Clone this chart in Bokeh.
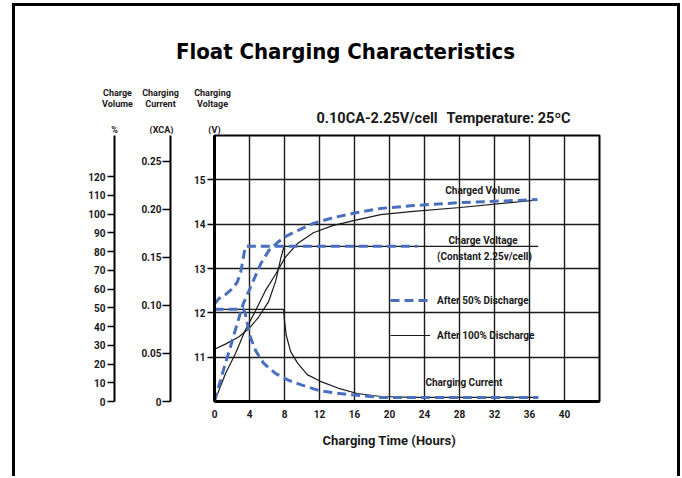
from bokeh.plotting import figure
from bokeh.layouts import column
from bokeh.models import (Range1d, LinearAxis, FixedTicker, Label, Legend,
                          LegendItem, CustomJSTickFormatter, Title)
from bokeh.embed import file_html
from bokeh.resources import INLINE

# ---------------- data ----------------
title_text = "Float Charging Characteristics"
condition_text = "0.10CA-2.25V/cell"
temperature_text = "Temperature: 25ºC"
x_axis_title = "Charging Time (Hours)"

hour_ticks = [0, 4, 8, 12, 16, 20, 24, 28, 32, 36, 40]
voltage_ticks = [11, 12, 13, 14, 15]
current_ticks = [0, 0.05, 0.10, 0.15, 0.20, 0.25]
current_tick_labels = ["0", "0.05", "0.10", "0.15", "0.20", "0.25"]
volume_ticks = [0, 10, 20, 30, 40, 50, 60, 70, 80, 90, 100, 110, 120]

# After 50% discharge (blue dashed)
vol50_h = [0, 1.0, 1.8, 2.6, 3.3, 4.3, 5.3, 6.2, 7.2, 8.1, 9.5, 11.3, 13.6, 16.3, 19, 22.7, 28.1, 36.9]
vol50_pct = [0, 16.5, 28.8, 41.6, 52.3, 62.9, 73.6, 80.5, 84.8, 88, 91.2, 95, 98.1, 100.8, 103, 104.5, 106.1, 107.7]
volt50_h = [0, 0.5, 1.26, 2.0, 2.6, 3.0, 3.24, 3.47, 3.55, 23.2]
volt50_v = [12.20, 12.32, 12.41, 12.54, 12.69, 12.92, 13.18, 13.44, 13.5, 13.5]
cur50_h = [0, 3.3, 3.5, 4.1, 4.7, 5.6, 7.0, 8.5, 10, 12.1, 15.2, 19, 22.7, 37]
cur50_ca = [0.096, 0.096, 0.092, 0.067, 0.053, 0.040, 0.029, 0.022, 0.017, 0.011, 0.0073, 0.0042, 0.0042, 0.0042]

# After 100% discharge (black solid)
vol100_h = [0, 1.26, 2.4, 3.5, 4.7, 5.8, 7.0, 8.1, 9.5, 11.3, 13.5, 15.9, 19, 22.4, 28.1, 36.9]
vol100_pct = [0, 14.9, 25.6, 37.9, 48.5, 59, 68, 77, 84.3, 90, 93.8, 96.5, 99.7, 101.3, 103.5, 107.5]
volt100_h = [0, 1.3, 2.8, 3.9, 5.0, 6.2, 7.0, 7.6, 7.95, 37]
volt100_v = [11.18, 11.30, 11.46, 11.64, 11.89, 12.26, 12.72, 13.25, 13.5, 13.5]
cur100_h = [0, 7.9, 8.0, 8.2, 8.7, 9.5, 10.6, 12.1, 14.1, 16.3, 19, 22.7, 37]
cur100_ca = [0.096, 0.096, 0.084, 0.069, 0.052, 0.040, 0.028, 0.021, 0.014, 0.0083, 0.0052, 0.0042, 0.0042]

legend_labels = ["After 50% Discharge", "After 100% Discharge"]
curve_labels = ["Charged Volume", "Charge Voltage", "(Constant 2.25v/cell)", "Charging Current"]
header_labels = [("Charge", "Volume", "%"), ("Charging", "Current", "(XCA)"), ("Charging", "Voltage", "(V)")]

# ---------------- styling ----------------
BLUE = "#4a6fbf"
INK = "#1a1a1a"
FONT = "Roboto"
TITLE_FONT = "DejaVu Sans Condensed"
BORDER = "3px solid black"

# ---- header strip (title, subtitle, axis headings); coordinates are page pixels
head = figure(width=668, height=131, x_range=Range1d(15, 683), y_range=Range1d(137, 6),
              x_axis_type=None, y_axis_type=None, output_backend="svg",
              toolbar_location=None, min_border=0)
head.frame_align = False
head.outline_line_color = None
head.styles = {"border-top": BORDER, "border-left": BORDER, "border-right": BORDER}


def htxt(x, y, s, size, align="center", font=FONT, color=INK):
    head.add_layout(Label(x=x, y=y, text=s, text_align=align, text_baseline="middle",
                          text_font=font, text_font_size=size, text_font_style="bold",
                          text_color=color))


htxt(345, 51, title_text, "22px", font=TITLE_FONT, color="black")
htxt(316, 118, condition_text, "14.5px", align="left")
htxt(570, 118, temperature_text, "14.5px", align="right")
header_x = [117, 160, 212]
unit_x = [114, 161, 214]
for (l1, l2, unit), hx, ux in zip(header_labels, header_x, unit_x):
    htxt(hx, 92, l1, "9px")
    htxt(hx, 103, l2, "9px")
    htxt(ux, 129, unit, "9px")

# ---- main chart
p = figure(width=668, height=342, x_range=Range1d(0, 44), y_range=Range1d(10, 16),
           output_backend="svg", toolbar_location=None,
           min_border_left=199, min_border_right=84, min_border_top=1, min_border_bottom=75)
p.frame_align = False
p.styles = {"border-left": BORDER, "border-right": BORDER}
p.background_fill_color = "white"
p.border_fill_color = "white"
p.outline_line_color = "black"
p.outline_line_width = 2

p.extra_y_ranges = {"cur": Range1d(0, 0.277), "vol": Range1d(0, 141.9)}


def style_axis(ax, lw):
    ax.axis_line_color = "black"
    ax.axis_line_width = lw
    ax.major_tick_line_color = "black"
    ax.major_tick_line_width = 1.5
    ax.major_tick_in = 0
    ax.minor_tick_line_color = None
    ax.major_label_text_font = FONT
    ax.major_label_text_font_size = "10px"
    ax.major_label_text_font_style = "bold"
    ax.major_label_text_color = INK


# bottom axis
p.xaxis.ticker = FixedTicker(ticks=hour_ticks)
style_axis(p.xaxis[0], 3)
p.xaxis.major_tick_out = 0
p.xaxis.major_label_standoff = 8

# x axis title, placed under the tick labels (slightly left of centre, as in the original)
p.add_layout(Title(text=x_axis_title, align="left", offset=108, vertical_align="middle",
                   standoff=23, text_font=FONT, text_font_size="13px",
                   text_font_style="bold", text_color=INK), "below")

# voltage axis (primary)
p.yaxis.ticker = FixedTicker(ticks=voltage_ticks)
style_axis(p.yaxis[0], 3)
p.yaxis.major_tick_out = 7
p.yaxis.major_label_standoff = 2
p.yaxis.axis_label = "|"
p.yaxis.axis_label_text_alpha = 0
p.yaxis.axis_label_text_font_size = "10px"
p.yaxis.axis_label_standoff = 7

cur_axis = LinearAxis(y_range_name="cur", ticker=FixedTicker(ticks=current_ticks),
                      formatter=CustomJSTickFormatter(
                          args=dict(tvals=current_ticks, tlabels=current_tick_labels),
                          code="const i = tvals.findIndex(t => Math.abs(t - tick) < 1e-9); return i >= 0 ? tlabels[i] : '';"))
style_axis(cur_axis, 2)
cur_axis.major_tick_out = 8
cur_axis.major_label_standoff = 1
cur_axis.axis_label = "|"
cur_axis.axis_label_text_alpha = 0
cur_axis.axis_label_text_font_size = "10px"
cur_axis.axis_label_standoff = 10
p.add_layout(cur_axis, "left")

vol_axis = LinearAxis(y_range_name="vol", ticker=FixedTicker(ticks=volume_ticks))
style_axis(vol_axis, 2)
vol_axis.major_tick_out = 7
vol_axis.major_label_standoff = 2
p.add_layout(vol_axis, "left")

# grid
p.xgrid.grid_line_color = INK
p.xgrid.grid_line_width = 1.4
p.ygrid.grid_line_color = INK
p.ygrid.grid_line_width = 1.4

# curves: 100% discharge (black)
k1 = p.line(vol100_h, vol100_pct, y_range_name="vol", line_color=INK, line_width=1.2)
p.line(volt100_h, volt100_v, line_color=INK, line_width=1.2)
p.line(cur100_h, cur100_ca, y_range_name="cur", line_color=INK, line_width=1.2)

# curves: 50% discharge (blue dashed)
b1 = p.line(vol50_h, vol50_pct, y_range_name="vol", line_color=BLUE, line_width=3, line_dash="9 5")
p.line(volt50_h, volt50_v, line_color=BLUE, line_width=3, line_dash="9 5")
p.line(cur50_h, cur50_ca, y_range_name="cur", line_color=BLUE, line_width=3, line_dash="9 5")

legend = Legend(items=[LegendItem(label=legend_labels[0], renderers=[b1]),
                       LegendItem(label=legend_labels[1], renderers=[k1])],
                location=(176, 56), orientation="vertical", border_line_color=None,
                background_fill_alpha=0, padding=0, margin=0, spacing=15,
                glyph_width=40, glyph_height=20, label_height=20, label_standoff=7,
                label_text_font=FONT, label_text_font_size="10px",
                label_text_font_style="bold", label_text_color=INK)
p.add_layout(legend)


def txt(x, y, s, size, align="center", font=FONT, color=INK):
    p.add_layout(Label(x=x, y=y, text=s, text_align=align, text_baseline="middle",
                       text_font=font, text_font_size=size, text_font_style="bold",
                       text_color=color))


# curve annotations
txt(30.63, 14.75, curve_labels[0], "10px")
txt(30.7, 13.63, curve_labels[1], "10px")
txt(30.86, 13.27, curve_labels[2], "10px")
txt(28.5, 10.43, curve_labels[3], "10px")

page = column(head, p, spacing=0, margin=(3, 0, 0, 12))
open("out.html", "w").write(file_html(page, INLINE))
